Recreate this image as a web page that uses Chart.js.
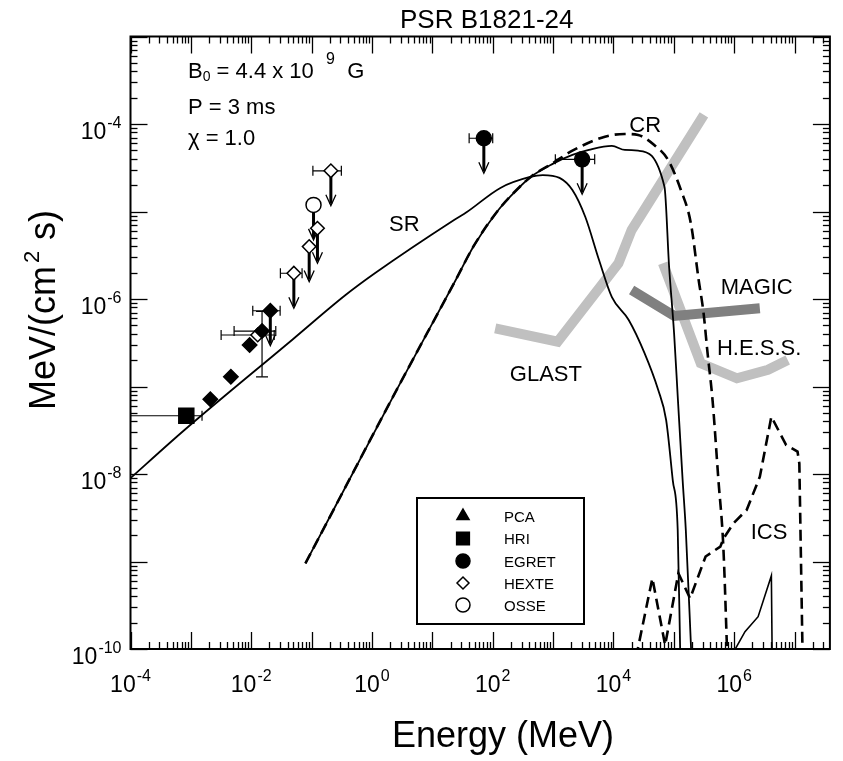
<!DOCTYPE html>
<html>
<head>
<meta charset="utf-8">
<script src="https://cdn.jsdelivr.net/npm/chart.js@4.4.1/dist/chart.umd.min.js"></script>
<style>
  html, body { margin: 0; padding: 0; background: #fff; }
  #wrap { width: 843px; height: 761px; }
</style>
</head>
<body>
<div id="wrap"><canvas id="sedChart" width="843" height="761"></canvas></div>
<script>
const FONT = '"Liberation Sans", Arial, Helvetica, sans-serif'

// model curves (energy in MeV, flux in MeV/(cm^2 s))
const srE = [9e-5, 7.83e-4, 0.049, 0.365, 1.13, 22.9, 37.3, 134, 415, 676, 1280, 2090, 3410, 5770, 9420, 1.79e4, 3.26e4, 5.52e4, 7.46e4, 9.6e4, 1.16e5, 1.28e5]
const srF = [8.4e-9, 3.18e-8, 3.47e-7, 1.11e-6, 1.98e-6, 8.0e-6, 9.86e-6, 1.86e-5, 2.48e-5, 2.61e-5, 2.42e-5, 1.76e-5, 8.7e-6, 2.79e-6, 1.05e-6, 5.75e-7, 2.42e-7, 9.1e-8, 4.14e-8, 8.5e-9, 2.29e-9, 8e-11]

const crE = [0.0789, 2.55, 24.4, 48.5, 124, 248, 431, 984, 2090, 7230, 1.53e4, 2.57e4, 4.74e4, 8.04e4, 1.31e5, 1.91e5, 2.58e5, 3.11e5, 3.62e5, 4.38e5, 5.48e5, 6.61e5, 7.69e5]
const crF = [9.5e-10, 9.1e-8, 1.65e-6, 4.04e-6, 1.04e-5, 1.76e-5, 2.5e-5, 3.56e-5, 4.95e-5, 7.16e-5, 7.69e-5, 7.48e-5, 5.75e-5, 3.88e-5, 1.76e-5, 7.4e-6, 1.65e-6, 6.9e-7, 2.42e-7, 7.0e-8, 8.5e-9, 1.47e-9, 8e-11]

const totE = [0.0789, 2.55, 24.4, 48.5, 124, 248, 431, 984, 2090, 3920, 9420, 1.55e4, 2.57e4, 7.0e4, 8.36e4, 1.01e5, 1.17e5, 1.4e5, 1.58e5, 1.96e5]
const totF = [9.5e-10, 9.1e-8, 1.65e-6, 4.04e-6, 1.04e-5, 1.76e-5, 2.5e-5, 3.5e-5, 4.43e-5, 5.05e-5, 5.61e-5, 5.05e-5, 4.95e-5, 1.92e-5, 2.32e-6, 4.08e-7, 7.0e-8, 8.5e-9, 2.29e-9, 8e-11]

const icsE = [2.36e4, 4.41e4, 7.18e4, 1.19e5, 1.86e5, 3.36e5, 5.9e5, 6.68e5, 9.75e5, 1.61e6, 2.66e6, 4.13e6, 7.26e6, 1.12e7, 1.2e7, 1.36e7]
const icsF = [7.94e-11, 6.43e-10, 1.11e-10, 7.33e-10, 3.79e-10, 1.14e-9, 1.48e-9, 1.84e-9, 2.74e-9, 3.88e-9, 9.3e-9, 4.52e-8, 2.14e-8, 1.8e-8, 1.32e-8, 8e-11]

const ics2E = [1.0e6, 1.51e6, 2.49e6, 4.13e6, 4.26e6]
const ics2F = [9.5e-11, 1.58e-10, 2.34e-10, 6.89e-10, 8e-11]

// instrument sensitivities
const glastE = [110, 1190, 1.21e4, 2.0e4, 3.15e5]
const glastF = [4.62e-7, 3.25e-7, 2.56e-6, 6.15e-6, 1.27e-4]
const magicE = [2.0e4, 1.02e5, 2.66e6]
const magicF = [1.27e-6, 6.4e-7, 7.83e-7]
const hessE = [6.59e4, 2.79e5, 1.11e6, 3.63e6, 7.71e6]
const hessF = [2.56e-6, 1.84e-7, 1.24e-7, 1.55e-7, 2.01e-7]

// observations
const hriE = [8.4e-4], hriF = [4.63e-8], hriELo = [1e-4], hriEHi = [1.53e-3]

const pcaE = [2.1e-3, 4.6e-3, 9.4e-3, 1.51e-2, 2.07e-2]
const pcaF = [7.14e-8, 1.29e-7, 2.98e-7, 4.3e-7, 7.34e-7]
const pcaELo = [null, null, null, 5.2e-3, 1.06e-2]
const pcaEHi = [null, null, null, 2.55e-2, 3.01e-2]
const pcaFLo = [null, null, null, 1.29e-7, null]
const pcaFHi = [null, null, null, 7.2e-7, null]
const pcaUL = [false, false, false, false, true]

const hexteE = [1.28e-2, 0.0508, 0.0912, 0.125, 0.2085]
const hexteF = [3.88e-7, 1.97e-6, 3.97e-6, 6.43e-6, 2.92e-5]
const hexteELo = [3.17e-3, 0.0304, null, null, 0.105]
const hexteEHi = [2.4e-2, 0.0695, null, null, 0.311]
const hexteUL = [false, true, true, true, true]

const egretE = [71.3, 3030], egretF = [6.87e-5, 3.95e-5]
const egretELo = [40.7, 1090], egretEHi = [100, 4890]
const egretUL = [true, true]

const osseE = [0.1076], osseF = [1.19e-5], osseUL = [true]

// text on the plot
const curveLabels = ["SR", "CR", "GLAST", "MAGIC", "H.E.S.S.", "ICS"]
const curveLabelE = [3.43, 3.35e4, 759, 2.36e6, 2.59e6, 3.77e6]
const curveLabelF = [7.3e-6, 1.01e-4, 1.41e-7, 1.39e-6, 2.86e-7, 2.23e-9]

const legendNames = ["PCA", "HRI", "EGRET", "HEXTE", "OSSE"]
const legendStyles = ["triangle", "rect", "circle", "rectRot", "circle"]
const legendFilled = [true, true, true, false, false]

const xTickExps = [-4, -2, 0, 2, 4, 6]
const yTickExps = [-10, -8, -6, -4]

const xy = (xs, ys) => xs.map((v, i) => ({ x: v, y: ys[i] }))

function curve(label, xs, ys, opts) {
  return Object.assign({
    label: label,
    data: xy(xs, ys),
    showLine: true,
    pointRadius: 0,
    borderColor: "#000",
    borderWidth: 2,
    fill: false,
  }, opts)
}

function seg(ctx, x1, y1, x2, y2) {
  ctx.beginPath()
  ctx.moveTo(x1, y1)
  ctx.lineTo(x2, y2)
  ctx.stroke()
}

// draws "10" with a raised exponent
function drawPow(ctx, x, yMid, exp, align) {
  ctx.font = "23px " + FONT
  const wb = ctx.measureText("10").width
  ctx.font = "16px " + FONT
  const we = ctx.measureText(exp).width
  const w = wb + 1 + we
  const x0 = align === "center" ? x - w / 2 : x - w
  ctx.textAlign = "left"
  ctx.textBaseline = "alphabetic"
  ctx.font = "23px " + FONT
  ctx.fillText("10", x0, yMid + 8)
  ctx.font = "16px " + FONT
  ctx.fillText(exp, x0 + wb + 1, yMid - 3)
}

// text pieces: [text, 'n' | 'sub' | 'sup']
function drawRich(ctx, x, y, pieces, size) {
  let cx = x
  pieces.forEach(([t, kind]) => {
    let fs = size, dy = 0
    if (kind === "sub") { fs = Math.round(size * 0.64); dy = 3 }
    if (kind === "sup") { fs = Math.round(size * 0.72); dy = -14 }
    ctx.font = fs + "px " + FONT
    ctx.fillText(t, cx, y + dy)
    cx += ctx.measureText(t).width
  })
}

const errorBars = {
  id: "errorBars",
  beforeDatasetsDraw(chart) {
    const { ctx, chartArea: a, scales: { x, y } } = chart
    ctx.save()
    ctx.beginPath()
    ctx.rect(a.left, a.top, a.right - a.left, a.bottom - a.top)
    ctx.clip()
    ctx.strokeStyle = "#000"
    chart.data.datasets.forEach((ds) => {
      if (!ds.isObs) return
      ds.data.forEach((p, i) => {
        const px = x.getPixelForValue(p.x)
        const py = y.getPixelForValue(p.y)
        ctx.lineWidth = 1.2
        if (ds.xLo && ds.xLo[i] != null) {
          const x1 = x.getPixelForValue(ds.xLo[i])
          const x2 = x.getPixelForValue(ds.xHi[i])
          seg(ctx, x1, py, x2, py)
          seg(ctx, x1, py - 5, x1, py + 5)
          seg(ctx, x2, py - 5, x2, py + 5)
        }
        if (ds.yLo && ds.yLo[i] != null) {
          const y1 = y.getPixelForValue(ds.yLo[i])
          const y2 = y.getPixelForValue(ds.yHi[i])
          seg(ctx, px, y1, px, y2)
          seg(ctx, px - 6, y1, px + 6, y1)
          seg(ctx, px - 6, y2, px + 6, y2)
        }
        if (ds.ul && ds.ul[i]) {
          const tip = py + 35
          ctx.lineWidth = 3
          seg(ctx, px, py, px, tip - 2)
          ctx.lineWidth = 1.3
          ctx.beginPath()
          ctx.moveTo(px - 5, tip - 11)
          ctx.lineTo(px, tip)
          ctx.lineTo(px + 5, tip - 11)
          ctx.stroke()
        }
      })
    })
    ctx.restore()
  },
}

const frameAndText = {
  id: "frameAndText",
  afterDraw(chart) {
    const { ctx, chartArea: a, scales: { x, y } } = chart
    ctx.save()
    ctx.strokeStyle = "#000"
    ctx.fillStyle = "#000"

    // log ticks on all four sides, pointing inward
    ctx.lineWidth = 1.3
    for (let k = -5; k <= 8; k++) {
      for (let m = 1; m <= 9; m++) {
        const v = m * Math.pow(10, k)
        if (v > x.min * 0.999 && v < x.max) {
          const px = Math.round(x.getPixelForValue(v)) + 0.5
          const len = m === 1 ? 17 : 7
          seg(ctx, px, a.bottom, px, a.bottom - len)
          seg(ctx, px, a.top, px, a.top + len)
        }
      }
    }
    for (let k = -11; k <= -3; k++) {
      for (let m = 1; m <= 9; m++) {
        const v = m * Math.pow(10, k)
        if (v > y.min * 0.999 && v < y.max * 1.001) {
          const py = Math.round(y.getPixelForValue(v)) + 0.5
          const len = m === 1 ? 17 : 7
          seg(ctx, a.left, py, a.left + len, py)
          seg(ctx, a.right - 1, py, a.right - 1 - len, py)
        }
      }
    }

    ctx.lineWidth = 2
    ctx.strokeRect(a.left, a.top, a.right - a.left - 1, a.bottom - a.top)

    // tick labels
    xTickExps.forEach((k) => drawPow(ctx, x.getPixelForValue(Math.pow(10, k)), a.bottom + 35, String(k), "center"))
    yTickExps.forEach((k) => drawPow(ctx, a.left - 9, y.getPixelForValue(Math.pow(10, k)) + 7, String(k), "right"))

    // axis titles
    ctx.font = "36px " + FONT
    ctx.textAlign = "center"
    ctx.textBaseline = "alphabetic"
    ctx.fillText("Energy (MeV)", 503, 747)

    ctx.save()
    ctx.translate(55, 310)
    ctx.rotate(-Math.PI / 2)
    ctx.font = "36px " + FONT
    const w1 = ctx.measureText("MeV/(cm").width
    const w3 = ctx.measureText(" s)").width
    ctx.font = "22px " + FONT
    const w2 = ctx.measureText("2").width + 4
    let cx = -(w1 + w2 + w3) / 2
    ctx.textAlign = "left"
    ctx.font = "36px " + FONT
    ctx.fillText("MeV/(cm", cx, 0)
    cx += w1 + 3
    ctx.font = "22px " + FONT
    ctx.fillText("2", cx, -16)
    cx += w2 - 3
    ctx.font = "36px " + FONT
    ctx.fillText(" s)", cx, 0)
    ctx.restore()

    // parameter block
    ctx.textAlign = "left"
    drawRich(ctx, a.left + 57.5, a.top + 41, [["B", "n"], ["0", "sub"], [" = 4.4 x 10  ", "n"], ["9", "sup"], ["  G", "n"]], 22)
    drawRich(ctx, a.left + 57.5, a.top + 77, [["P = 3 ms", "n"]], 22)
    drawRich(ctx, a.left + 57.5, a.top + 108.5, [["\u03c7 = 1.0", "n"]], 22)

    // curve labels
    ctx.font = "22px " + FONT
    ctx.textAlign = "center"
    curveLabels.forEach((t, i) => {
      ctx.fillText(t, x.getPixelForValue(curveLabelE[i]), y.getPixelForValue(curveLabelF[i]) + 8)
    })

    // legend box
    const lx = 417, ly = 498, lw = 167, lh = 126
    ctx.fillStyle = "#fff"
    ctx.fillRect(lx, ly, lw, lh)
    ctx.fillStyle = "#000"
    ctx.lineWidth = 2
    ctx.strokeRect(lx, ly, lw, lh)
    const rows = [516, 538.5, 561, 583, 605]
    legendNames.forEach((n, i) => {
      ctx.fillStyle = legendFilled[i] ? "#000" : "#fff"
      ctx.strokeStyle = "#000"
      ctx.lineWidth = 1.5
      const r = legendStyles[i] === "rect" ? 9 : (legendStyles[i] === "rectRot" ? 6 : 7)
      Chart.helpers.drawPoint(ctx, { pointStyle: legendStyles[i], radius: r, borderWidth: 1.5, rotation: 0 }, 463, rows[i])
      ctx.fillStyle = "#000"
      ctx.font = "15px " + FONT
      ctx.textAlign = "left"
      ctx.fillText(n, 504, rows[i] + 5.5)
    })
    ctx.restore()
  },
}

function obs(label, xs, ys, style, radius, filled, extra) {
  return Object.assign({
    label: label,
    data: xy(xs, ys),
    isObs: true,
    showLine: false,
    pointStyle: style,
    pointRadius: radius,
    pointHoverRadius: radius,
    pointBackgroundColor: filled ? "#000" : "#fff",
    pointBorderColor: "#000",
    pointBorderWidth: 1.5,
    order: 0,
  }, extra)
}

new Chart(document.getElementById("sedChart"), {
  type: "scatter",
  data: {
    datasets: [
      obs("HRI", hriE, hriF, "rect", 10.6, true, { xLo: hriELo, xHi: hriEHi }),
      obs("PCA", pcaE, pcaF, "rectRot", 7.2, true, { xLo: pcaELo, xHi: pcaEHi, yLo: pcaFLo, yHi: pcaFHi, ul: pcaUL }),
      obs("HEXTE", hexteE, hexteF, "rectRot", 6.8, false, { xLo: hexteELo, xHi: hexteEHi, ul: hexteUL }),
      obs("EGRET", egretE, egretF, "circle", 7.5, true, { xLo: egretELo, xHi: egretEHi, ul: egretUL }),
      obs("OSSE", osseE, osseF, "circle", 7.5, false, { ul: osseUL }),
      curve("SR", srE, srF, { cubicInterpolationMode: "monotone", borderWidth: 1.8, order: 1 }),
      curve("CR", crE, crF, { cubicInterpolationMode: "monotone", borderWidth: 2.6, borderDash: [11, 6], order: 1 }),
      curve("Total", totE, totF, { cubicInterpolationMode: "monotone", borderWidth: 1.8, order: 1 }),
      curve("ICS", icsE, icsF, { borderWidth: 2.6, borderDash: [11, 6], order: 1 }),
      curve("ICS total", ics2E, ics2F, { borderWidth: 1.6, order: 1 }),
      curve("MAGIC", magicE, magicF, { borderColor: "#808080", borderWidth: 10, borderCapStyle: "butt", order: 2 }),
      curve("GLAST", glastE, glastF, { borderColor: "#c0c0c0", borderWidth: 10, borderCapStyle: "butt", borderJoinStyle: "miter", order: 3 }),
      curve("H.E.S.S.", hessE, hessF, { borderColor: "#c0c0c0", borderWidth: 10, borderCapStyle: "butt", borderJoinStyle: "miter", order: 3 }),
    ],
  },
  options: {
    responsive: false,
    animation: false,
    devicePixelRatio: 1,
    layout: {
      padding: { left: 130.5, right: 0, top: 0, bottom: 112 },
    },
    font: { family: FONT },
    plugins: {
      legend: { display: false },
      tooltip: { enabled: false },
      title: {
        display: true,
        text: "PSR B1821-24",
        color: "#000",
        font: { family: FONT, size: 26, weight: "normal", lineHeight: 1.2 },
        padding: { top: 5, bottom: 0.3 },
      },
    },
    scales: {
      x: {
        type: "logarithmic",
        display: false,
        min: 1e-4,
        max: 4e7,
      },
      y: {
        type: "logarithmic",
        display: false,
        min: 1e-10,
        max: 1e-3,
      },
    },
  },
  plugins: [errorBars, frameAndText],
})
</script>
</body>
</html>
